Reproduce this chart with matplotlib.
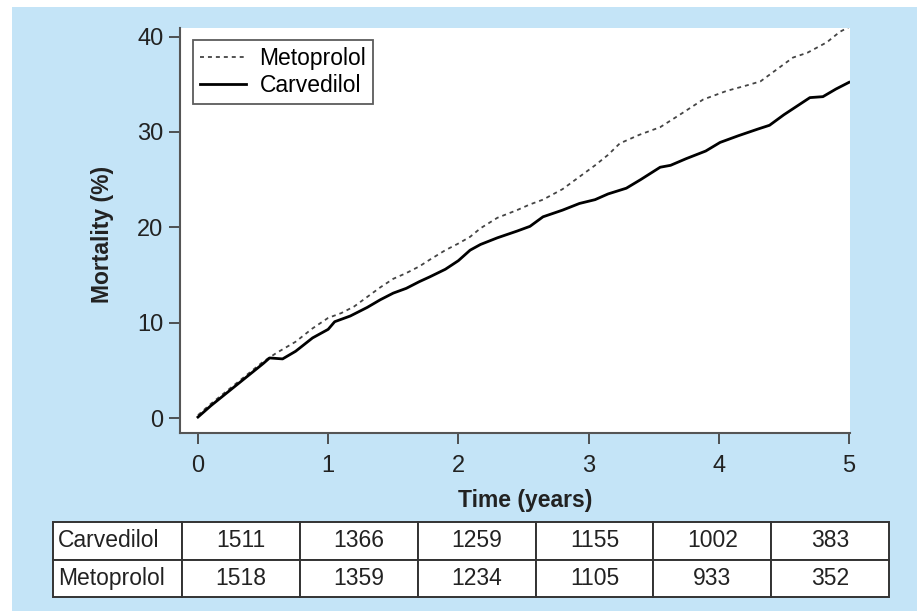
import matplotlib
matplotlib.use("Agg")
import matplotlib.pyplot as plt
from matplotlib.patches import Rectangle

plt.rcParams['font.family'] = ['Liberation Sans', 'DejaVu Sans']

# cumulative mortality
carv_t = [0.0, 0.1, 0.2, 0.3, 0.4, 0.5, 0.55, 0.65, 0.75, 0.88, 1.0, 1.05, 1.17, 1.3,
          1.4, 1.5, 1.6, 1.7, 1.78, 1.9, 2.0, 2.09, 2.17, 2.3, 2.45, 2.55, 2.65, 2.8,
          2.93, 3.05, 3.15, 3.29, 3.4, 3.55, 3.63, 3.75, 3.9, 4.01, 4.15, 4.3, 4.39,
          4.5, 4.6, 4.7, 4.8, 4.9, 5.0]
carv_v = [0.1, 1.3, 2.4, 3.5, 4.6, 5.7, 6.3, 6.2, 7.0, 8.4, 9.3, 10.1, 10.7, 11.6,
          12.4, 13.1, 13.6, 14.3, 14.8, 15.6, 16.5, 17.6, 18.2, 18.9, 19.6, 20.1, 21.1, 21.8,
          22.5, 22.9, 23.5, 24.1, 25.0, 26.3, 26.5, 27.2, 28.0, 28.9, 29.6, 30.3, 30.7,
          31.8, 32.7, 33.6, 33.7, 34.5, 35.2]
meto_t = [0.0, 0.1, 0.2, 0.3, 0.4, 0.5, 0.6, 0.75, 0.88, 1.0, 1.1, 1.2, 1.3, 1.4,
          1.5, 1.6, 1.7, 1.78, 1.9, 2.0, 2.09, 2.17, 2.3, 2.45, 2.55, 2.65, 2.8, 2.93,
          3.05, 3.15, 3.24, 3.39, 3.55, 3.7, 3.88, 4.06, 4.22, 4.32, 4.45, 4.57, 4.68,
          4.83, 4.93, 5.0]
meto_v = [0.3, 1.5, 2.6, 3.7, 4.8, 5.9, 6.8, 8.0, 9.4, 10.5, 11.0, 11.7, 12.7, 13.7,
          14.6, 15.2, 15.9, 16.6, 17.6, 18.3, 19.0, 19.9, 21.0, 21.8, 22.4, 22.9, 24.0, 25.3,
          26.5, 27.6, 28.8, 29.7, 30.5, 31.8, 33.4, 34.3, 34.9, 35.3, 36.6, 37.8, 38.3,
          39.4, 40.5, 41.0]

# numbers at risk
row_labels = ['Carvedilol', 'Metoprolol']
carv_risk = ['1511', '1366', '1259', '1155', '1002', '383']
meto_risk = ['1518', '1359', '1234', '1105', '933', '352']

W, H = 917, 611
fig = plt.figure(figsize=(W / 100, H / 100), dpi=100)
fig.patch.set_facecolor('white')

# light blue panel behind everything
bg = fig.add_axes([0, 0, 1, 1], zorder=-10)
bg.axis('off')
bg.set_xlim(0, W)
bg.set_ylim(H, 0)
bg.add_patch(Rectangle((12, 7), W - 12, H - 7, facecolor='#c4e4f7', edgecolor='none'))

ax = fig.add_axes([180 / W, 1 - 433 / H, 670 / W, 405 / H])
ax.set_facecolor('white')
ax.plot(meto_t, meto_v, color='#444444', lw=1.3, ls=(0, (2.2, 2.2)), label='Metoprolol')
ax.plot(carv_t, carv_v, color='black', lw=2.0, label='Carvedilol')
ax.set_xlim(-0.138, 5.008)
ax.set_ylim(-1.57, 40.9)
ax.set_xticks(range(6))
ax.set_yticks([0, 10, 20, 30, 40])
for s in ['top', 'right']:
    ax.spines[s].set_visible(False)
for s in ['left', 'bottom']:
    ax.spines[s].set_color('#555555')
    ax.spines[s].set_linewidth(1.5)
ax.tick_params(axis='y', direction='out', length=8, width=1.3, color='#444444',
               labelsize=17, pad=4, labelcolor='#222222')
ax.tick_params(axis='x', direction='out', length=8, width=1.3, color='#444444',
               labelsize=17, pad=8, labelcolor='#222222')
ax.set_xlabel('Time (years)', fontsize=16.5, fontweight='bold', color='#222222')
ax.set_ylabel('Mortality (%)', fontsize=16.5, fontweight='bold', color='#222222')
ax.xaxis.set_label_coords((525 - 180) / 670, -(489 - 433) / 405)
ax.yaxis.set_label_coords(-(180 - 114) / 670, 0.49)

leg = ax.legend(loc='upper left', bbox_to_anchor=(13 / 670, 1 - 12 / 405), fontsize=16.5,
                frameon=True, fancybox=False, handlelength=2.0, handletextpad=0.6,
                borderpad=0.3, labelspacing=0.2, borderaxespad=0)
leg.get_frame().set_edgecolor('#333333')
leg.get_frame().set_linewidth(1.3)

tax = fig.add_axes([53 / W, 1 - 597 / H, 836 / W, 75 / H])
tax.axis('off')
cells = [[row_labels[0]] + carv_risk, [row_labels[1]] + meto_risk]
first = 129 / 836
rest = (1 - first) / 6
tbl = tax.table(cellText=cells, colWidths=[first] + [rest] * 6, bbox=[0, 0, 1, 1],
                cellLoc='center')
tbl.auto_set_font_size(False)
tbl.set_fontsize(16.5)
for (r, c), cell in tbl.get_celld().items():
    cell.set_facecolor('white')
    cell.set_edgecolor('#333333')
    cell.set_linewidth(1.4)
    cell.get_text().set_color('#222222')
    if c == 0:
        cell.get_text().set_ha('left')
        cell.PAD = 0.04

fig.savefig('out.png', dpi=100)
